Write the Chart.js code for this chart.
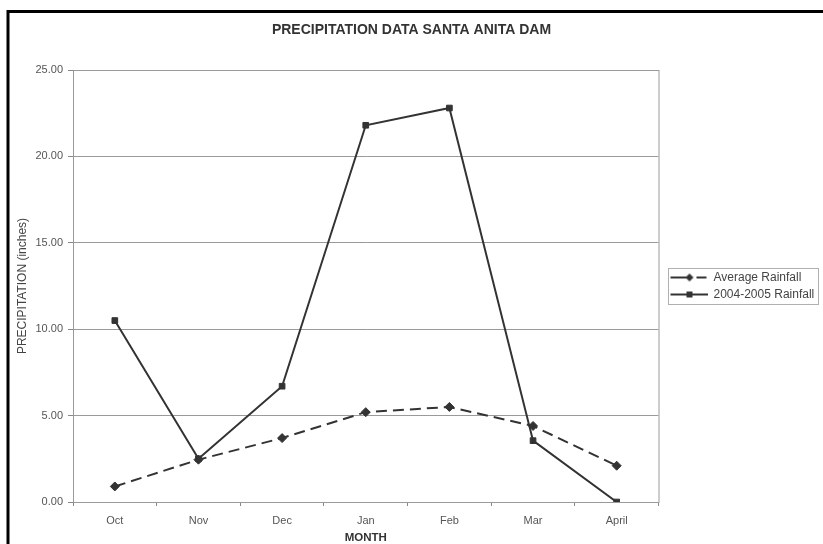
<!DOCTYPE html>
<html>
<head>
<meta charset="utf-8">
<title>Precipitation Data Santa Anita Dam</title>
<script src="https://cdn.jsdelivr.net/npm/chart.js@4.4.0/dist/chart.umd.min.js"></script>
<style>
  html, body { margin: 0; padding: 0; background: #fff; }
  #wrap { width: 823px; height: 544px; }
</style>
</head>
<body>
<div id="wrap"><canvas id="rainChart" width="823" height="544"></canvas></div>
<script>
// values (inches)
const months = ['Oct', 'Nov', 'Dec', 'Jan', 'Feb', 'Mar', 'April'];
const averageRainfall = [0.9, 2.45, 3.7, 5.2, 5.5, 4.4, 2.1];
const rainfall0405 = [10.5, 2.5, 6.7, 21.8, 22.8, 3.55, 0];
const yTicks = [0, 5, 10, 15, 20, 25];

const FONT = 'Arial, "Liberation Sans", Helvetica, sans-serif';
const INK = '#333';

// legend sample: short line with the marker in the middle
function legendSample(dashed, square) {
    const c = document.createElement('canvas');
    c.width = 44; c.height = 10;
    const g = c.getContext('2d');
    g.strokeStyle = INK;
    g.fillStyle = INK;
    g.lineWidth = 2;
    g.beginPath();
    if (dashed) {
        g.moveTo(7, 5); g.lineTo(26, 5);
        g.moveTo(33, 5); g.lineTo(43, 5);
    } else {
        g.moveTo(7, 5); g.lineTo(44, 5);
    }
    g.stroke();
    if (square) {
        g.fillRect(23, 2, 6, 6);
    } else {
        g.beginPath();
        g.moveTo(26, 1); g.lineTo(30, 5); g.lineTo(26, 9); g.lineTo(22, 5);
        g.closePath();
        g.fill();
    }
    return c;
}
const samples = [legendSample(true, false), legendSample(false, true)];

const chartDecor = {
    id: 'chartDecor',
    beforeLayout(chart) {
        // fixed legend column width so the plot ends where the original does
        const lg = chart.legend;
        if (lg && !lg._fixedWidth) {
            const fit = lg.fit.bind(lg);
            lg.fit = function () { fit(); this.width = 164.5; };
            lg._fixedWidth = true;
        }
    },
    beforeDatasetsDraw(chart) {
        const { ctx, chartArea: a } = chart;
        ctx.save();
        ctx.strokeStyle = '#9a9a9a';
        ctx.lineWidth = 1;
        ctx.strokeRect(a.left + 0.5, a.top + 0.5, a.right - a.left, a.bottom - a.top);
        ctx.restore();
    },
    afterDraw(chart) {
        const { ctx } = chart;
        const boxes = chart.legend.legendHitBoxes;
        if (boxes && boxes.length) {
            const first = boxes[0], last = boxes[boxes.length - 1];
            let right = 0;
            boxes.forEach(b => { right = Math.max(right, b.left + b.width); });
            ctx.save();
            ctx.strokeStyle = '#b0b0b0';
            ctx.lineWidth = 1;
            ctx.strokeRect(Math.round(first.left + 4.5) + 0.5, Math.round(first.top - 4) + 0.5,
                Math.round(right - first.left - 1), Math.round(last.top + last.height - first.top + 7));
            ctx.restore();
        }
        // black frame of the scanned figure
        ctx.save();
        ctx.strokeStyle = '#000';
        ctx.lineWidth = 3;
        ctx.strokeRect(8, 11.5, 900, 600);
        ctx.restore();
    }
};

const ctx = document.getElementById('rainChart').getContext('2d');

new Chart(ctx, {
    type: 'line',
    data: {
        labels: months,
        datasets: [{
            label: 'Average Rainfall',
            data: averageRainfall,
            borderColor: INK,
            backgroundColor: INK,
            borderWidth: 2,
            borderDash: [11, 6],
            pointStyle: 'rectRot',
            pointRadius: 4.5,
            pointBackgroundColor: INK,
            pointBorderColor: INK,
            pointBorderWidth: 1,
            tension: 0
        }, {
            label: '2004-2005 Rainfall',
            data: rainfall0405,
            borderColor: INK,
            backgroundColor: INK,
            borderWidth: 2,
            pointStyle: 'rect',
            pointRadius: 4,
            pointBackgroundColor: INK,
            pointBorderColor: INK,
            pointBorderWidth: 1,
            tension: 0
        }]
    },
    options: {
        responsive: false,
        animation: false,
        layout: { padding: 0 },
        plugins: {
            title: {
                display: true,
                text: 'PRECIPITATION DATA SANTA ANITA DAM',
                color: INK,
                font: { family: FONT, size: 14, weight: 'bold', lineHeight: 1.2 },
                padding: { top: 21.6, bottom: 31.6 }
            },
            legend: {
                position: 'right',
                fullSize: false,
                labels: {
                    usePointStyle: true,
                    pointStyleWidth: 44,
                    padding: 5,
                    color: '#444',
                    font: { family: FONT, size: 12 },
                    generateLabels(chart) {
                        return chart.data.datasets.map((ds, i) => ({
                            text: ds.label,
                            datasetIndex: i,
                            pointStyle: samples[i],
                            fontColor: '#444',
                            strokeStyle: INK,
                            fillStyle: INK,
                            lineWidth: 0,
                            hidden: false
                        }));
                    }
                }
            },
            tooltip: { enabled: false }
        },
        scales: {
            x: {
                offset: true,
                grid: {
                    display: true,
                    offset: true,
                    drawOnChartArea: false,
                    tickLength: 4,
                    tickColor: '#888'
                },
                border: { color: '#777', width: 1 },
                ticks: {
                    color: '#555',
                    padding: 8,
                    maxRotation: 0,
                    font: { family: FONT, size: 11 }
                },
                title: {
                    display: true,
                    text: 'MONTH',
                    color: INK,
                    font: { family: FONT, size: 11.5, weight: 'bold', lineHeight: 1 },
                    padding: { top: 0, bottom: 0 }
                },
                afterFit(scale) { scale.height = 42; }
            },
            y: {
                min: 0,
                max: 25,
                afterBuildTicks(scale) { scale.ticks = yTicks.map(v => ({ value: v })); },
                grid: {
                    color: '#9a9a9a',
                    lineWidth: 1,
                    tickLength: 5,
                    tickColor: '#888'
                },
                border: { color: '#9a9a9a', width: 1 },
                ticks: {
                    color: '#555',
                    padding: 5,
                    font: { family: FONT, size: 11 },
                    callback: v => Number(v).toFixed(2)
                },
                title: {
                    display: true,
                    text: 'PRECIPITATION (inches)',
                    color: '#444',
                    font: { family: FONT, size: 12, lineHeight: 1.2 },
                    padding: { top: 15, bottom: 0 }
                },
                afterFit(scale) { scale.width = 73; }
            }
        }
    },
    plugins: [chartDecor]
});
</script>
</body>
</html>
